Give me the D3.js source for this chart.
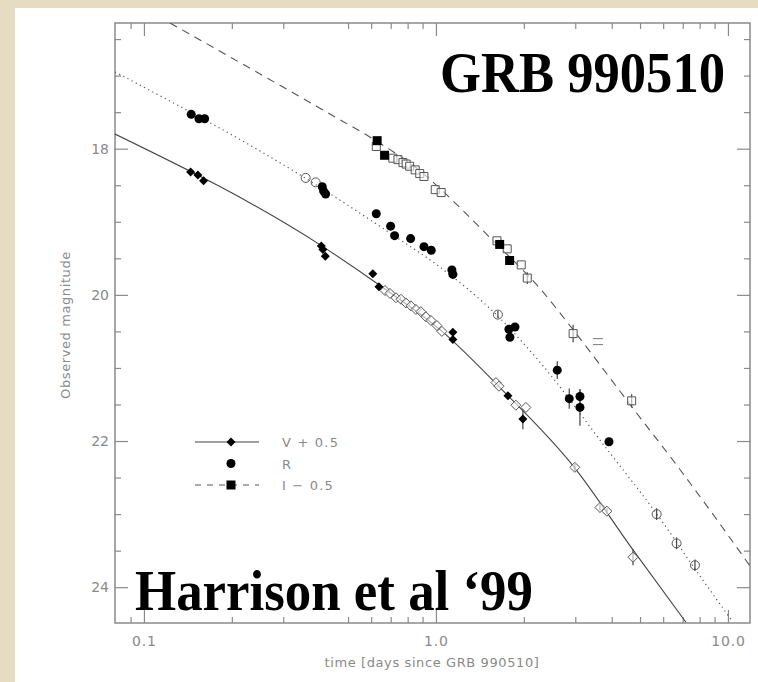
<!DOCTYPE html>
<html>
<head>
<meta charset="utf-8">
<script src="https://cdn.jsdelivr.net/npm/d3@7"></script>
<style>
  html, body { margin: 0; padding: 0; background: #e6dcc2; }
  svg { display: block; }
  .ax text { font-family: "DejaVu Sans", sans-serif; fill: #8a8a8a; }
</style>
</head>
<body>
<div id="chart"></div>
<script>
// GRB 990510 optical light curve (Harrison et al '99)
// values: [time in days, magnitude, error]

// V + 0.5 (filled diamonds)
const vFilled = [
  [0.1445, 18.32, 0], [0.153, 18.36, 0], [0.160, 18.44, 0],
  [0.405, 19.33, 0], [0.410, 19.38, 0], [0.418, 19.47, 0],
  [0.608, 19.71, 0], [0.638, 19.89, 0],
  [1.143, 20.51, 0], [1.143, 20.61, 0],
  [1.764, 21.38, 0.05], [1.985, 21.70, 0.14]
];
// V + 0.5 (open diamonds)
const vOpen = [
  [0.669, 19.94, 0], [0.696, 19.98, 0], [0.730, 20.04, 0], [0.759, 20.06, 0],
  [0.789, 20.11, 0], [0.821, 20.15, 0], [0.854, 20.20, 0], [0.888, 20.23, 0],
  [0.924, 20.30, 0], [0.961, 20.35, 0], [1.008, 20.42, 0], [1.048, 20.50, 0],
  [1.605, 21.20, 0], [1.644, 21.25, 0], [1.878, 21.51, 0], [2.033, 21.54, 0],
  [2.99, 22.36, 0.05], [3.645, 22.91, 0.04], [3.85, 22.96, 0.04], [4.73, 23.59, 0.11]
];
// R (filled circles)
const rFilled = [
  [0.1452, 17.53, 0], [0.1543, 17.59, 0], [0.1614, 17.59, 0],
  [0.408, 18.52, 0], [0.4124, 18.58, 0], [0.419, 18.62, 0],
  [0.6247, 18.89, 0], [0.6995, 19.06, 0], [0.722, 19.19, 0], [0.819, 19.23, 0],
  [0.910, 19.34, 0], [0.9636, 19.39, 0], [1.134, 19.66, 0], [1.143, 19.72, 0],
  [1.778, 20.47, 0.06], [1.865, 20.44, 0], [1.792, 20.58, 0.05],
  [2.603, 21.03, 0.12], [2.861, 21.42, 0.14], [3.113, 21.39, 0.1], [3.113, 21.54, 0.25],
  [3.914, 22.01, 0]
];
// R (open circles)
const rOpen = [
  [0.358, 18.40, 0], [0.3873, 18.46, 0], [1.63, 20.27, 0.05],
  [5.70, 23.00, 0.08], [6.67, 23.40, 0.08], [7.71, 23.70, 0.08]
];
// I - 0.5 (filled squares)
const iFilled = [
  [0.629, 17.89, 0], [0.667, 18.09, 0], [1.653, 19.31, 0], [1.788, 19.53, 0]
];
// I - 0.5 (open squares)
const iOpen = [
  [0.6247, 17.97, 0], [0.712, 18.13, 0], [0.741, 18.15, 0], [0.771, 18.19, 0],
  [0.791, 18.21, 0], [0.8128, 18.24, 0], [0.849, 18.29, 0], [0.880, 18.34, 0],
  [0.9098, 18.38, 0], [0.9945, 18.56, 0], [1.042, 18.60, 0],
  [1.618, 19.26, 0], [1.754, 19.37, 0], [1.959, 19.59, 0], [2.055, 19.77, 0.08],
  [2.95, 20.53, 0.12], [4.68, 21.45, 0.09]
];
// I - 0.5 odd symbol drawn as "="
const iBar = [[3.59, 20.64]];

// model curves
const vModel = [[0.0796, 17.80], [0.410, 19.34], [0.658, 19.90], [1.057, 20.51], [1.657, 21.27],
  [2.99, 22.37], [4.73, 23.49], [7.18, 24.48]];
const rModel = [[0.0796, 16.95], [0.356, 18.40], [0.724, 19.20], [1.016, 19.60], [1.618, 20.28],
  [2.27, 20.92], [3.85, 22.11], [5.71, 23.00], [7.71, 23.75], [10.32, 24.46]];
const iModel = [[0.1228, 16.28], [0.4267, 17.51], [0.628, 17.90], [0.88, 18.30], [1.162, 18.74],
  [1.507, 19.19], [2.29, 19.93], [2.94, 20.47], [4.62, 21.50], [6.85, 22.39], [9.53, 23.17], [11.9, 23.71]];

// axes ticks
const xMajor = [0.1, 1, 10];
const xMajorLabels = ["0.1", "1.0", "10.0"];
const xMinor = [0.09, 0.2, 0.3, 0.5, 0.6, 0.7, 0.8, 0.9, 2, 3, 4, 5, 6, 7, 8, 9];
const yMajor = [18, 20, 22, 24];
const yMinor = [16.5, 17, 17.5, 18.5, 19, 19.5, 20.5, 21, 21.5, 22.5, 23, 23.5];

// layout
const W = 758, H = 682;
const frame = { left: 115, top: 23, right: 750, bottom: 623 };

const svg = d3.select("#chart").append("svg").attr("width", W).attr("height", H);
svg.append("rect").attr("width", W).attr("height", H).attr("fill", "#e6dcc2");
svg.append("rect").attr("x", 15).attr("y", 8).attr("width", W - 15).attr("height", H - 8).attr("fill", "#fff");

const x = d3.scaleLog().domain([0.0796, 11.9]).range([frame.left, frame.right]);
const y = d3.scaleLinear().domain([16.28, 24.49]).range([frame.top, frame.bottom]);

svg.append("clipPath").attr("id", "clip").append("rect")
  .attr("x", frame.left).attr("y", frame.top)
  .attr("width", frame.right - frame.left).attr("height", frame.bottom - frame.top);

// axes (ticks point inward)
const axColor = "#8a8a8a";
function styleAxis(sel) {
  sel.select(".domain").remove();
  sel.selectAll("line").attr("stroke", axColor).attr("stroke-width", 1.2);
  sel.selectAll("text").attr("font-size", 14).attr("fill", axColor);
}
const bx = svg.append("g").attr("class", "ax").attr("transform", `translate(0,${frame.bottom})`);
bx.append("g").call(d3.axisBottom(x).tickValues(xMajor).tickSize(-13).tickPadding(13)
  .tickFormat((d, i) => xMajorLabels[i])).call(styleAxis);
bx.append("g").call(d3.axisBottom(x).tickValues(xMinor).tickSize(-6).tickFormat("")).call(styleAxis);
bx.selectAll("text").attr("letter-spacing", 0.8);
const tx = svg.append("g").attr("class", "ax").attr("transform", `translate(0,${frame.top})`);
tx.append("g").call(d3.axisTop(x).tickValues(xMajor).tickSize(-13).tickFormat("")).call(styleAxis);
tx.append("g").call(d3.axisTop(x).tickValues(xMinor).tickSize(-6).tickFormat("")).call(styleAxis);

const ly = svg.append("g").attr("class", "ax").attr("transform", `translate(${frame.left},0)`);
ly.append("g").call(d3.axisLeft(y).tickValues(yMajor).tickSize(-13).tickPadding(6)
  .tickFormat(d3.format("d"))).call(styleAxis);
ly.append("g").call(d3.axisLeft(y).tickValues(yMinor).tickSize(-6).tickFormat("")).call(styleAxis);
const ry = svg.append("g").attr("class", "ax").attr("transform", `translate(${frame.right},0)`);
ry.append("g").call(d3.axisRight(y).tickValues(yMajor).tickSize(-13).tickFormat("")).call(styleAxis);
ry.append("g").call(d3.axisRight(y).tickValues(yMinor).tickSize(-6).tickFormat("")).call(styleAxis);
ly.selectAll("text").attr("x", -6);

svg.append("rect")
  .attr("x", frame.left).attr("y", frame.top)
  .attr("width", frame.right - frame.left).attr("height", frame.bottom - frame.top)
  .attr("fill", "none").attr("stroke", axColor).attr("stroke-width", 1.5);

// axis titles
svg.append("text").attr("class", "ax")
  .attr("x", 432).attr("y", 667).attr("text-anchor", "middle")
  .attr("font-family", "DejaVu Sans").attr("font-size", 13).attr("fill", axColor)
  .attr("letter-spacing", 0.6)
  .text("time [days since GRB 990510]");
svg.append("text")
  .attr("transform", "translate(70,325) rotate(-90)").attr("text-anchor", "middle")
  .attr("font-family", "DejaVu Sans").attr("font-size", 13).attr("fill", axColor)
  .attr("letter-spacing", 0.6)
  .text("Observed magnitude");

// model curves
const plot = svg.append("g").attr("clip-path", "url(#clip)");
const line = d3.line().x(d => x(d[0])).y(d => y(d[1])).curve(d3.curveMonotoneX);
plot.append("path").datum(vModel).attr("d", line)
  .attr("fill", "none").attr("stroke", "#444").attr("stroke-width", 1.1);
plot.append("path").datum(rModel).attr("d", line)
  .attr("fill", "none").attr("stroke", "#555").attr("stroke-width", 1.2)
  .attr("stroke-dasharray", "1.2 3.5");
plot.append("path").datum(iModel).attr("d", line)
  .attr("fill", "none").attr("stroke", "#555").attr("stroke-width", 1.1)
  .attr("stroke-dasharray", "8 6");

// symbols
function diamondPath(cx, cy, r) {
  return `M${cx},${cy - r}L${cx + r},${cy}L${cx},${cy + r}L${cx - r},${cy}Z`;
}
function squarePath(cx, cy, r) {
  return `M${cx - r},${cy - r}h${2 * r}v${2 * r}h${-2 * r}Z`;
}
function errBars(data, color) {
  plot.selectAll(null).data(data.filter(d => d[2] > 0)).enter().append("line")
    .attr("x1", d => x(d[0])).attr("x2", d => x(d[0]))
    .attr("y1", d => y(d[1] - d[2])).attr("y2", d => y(d[1] + d[2]))
    .attr("stroke", color).attr("stroke-width", 1.2);
}

[vFilled, vOpen, rFilled, rOpen, iFilled, iOpen].forEach(s => errBars(s, "#444"));

plot.selectAll(null).data(vOpen).enter().append("path")
  .attr("d", d => diamondPath(x(d[0]), y(d[1]), 5))
  .attr("fill", "#fff").attr("fill-opacity", 0.6).attr("stroke", "#555").attr("stroke-width", 1);
plot.selectAll(null).data(iOpen).enter().append("path")
  .attr("d", d => squarePath(x(d[0]), y(d[1]), 4))
  .attr("fill", "#fff").attr("fill-opacity", 0.6).attr("stroke", "#555").attr("stroke-width", 1);
plot.selectAll(null).data(rOpen).enter().append("circle")
  .attr("cx", d => x(d[0])).attr("cy", d => y(d[1])).attr("r", 4.5)
  .attr("fill", "none").attr("stroke", "#555").attr("stroke-width", 1);
plot.selectAll(null).data(iBar).enter().append("path")
  .attr("d", d => `M${x(d[0]) - 5},${y(d[1]) - 3}h10M${x(d[0]) - 5},${y(d[1]) + 3}h10`)
  .attr("stroke", "#777").attr("stroke-width", 1);

plot.selectAll(null).data(vFilled).enter().append("path")
  .attr("d", d => diamondPath(x(d[0]), y(d[1]), 4.5)).attr("fill", "#000");
plot.selectAll(null).data(rFilled).enter().append("circle")
  .attr("cx", d => x(d[0])).attr("cy", d => y(d[1])).attr("r", 4.5).attr("fill", "#000");
plot.selectAll(null).data(iFilled).enter().append("path")
  .attr("d", d => squarePath(x(d[0]), y(d[1]), 4.5)).attr("fill", "#000");

// legend
const leg = svg.append("g").attr("transform", "translate(195,442)");
const legRows = ["V + 0.5", "R", "I \u2212 0.5"];
leg.append("line").attr("x1", 0).attr("x2", 64).attr("y1", 0).attr("y2", 0)
  .attr("stroke", "#444").attr("stroke-width", 1.2);
leg.append("path").attr("d", diamondPath(36, 0, 4.5)).attr("fill", "#000");
leg.append("circle").attr("cx", 36).attr("cy", 21.5).attr("r", 4.5).attr("fill", "#000");
leg.append("line").attr("x1", 0).attr("x2", 64).attr("y1", 43).attr("y2", 43)
  .attr("stroke", "#555").attr("stroke-width", 1.2).attr("stroke-dasharray", "6 6");
leg.append("path").attr("d", squarePath(36, 43, 4.5)).attr("fill", "#000");
leg.selectAll(null).data(legRows).enter().append("text")
  .attr("x", 87).attr("y", (d, i) => i * 21.5 + 5)
  .attr("font-family", "DejaVu Sans").attr("font-size", 13).attr("fill", axColor)
  .attr("letter-spacing", 1.2)
  .text(d => d);

// big annotations
svg.append("text").attr("x", 440).attr("y", 92)
  .attr("font-family", "Liberation Serif").attr("font-weight", "bold").attr("font-size", 57)
  .attr("textLength", 285).attr("lengthAdjust", "spacingAndGlyphs")
  .text("GRB 990510");
svg.append("text").attr("x", 135).attr("y", 610)
  .attr("font-family", "Liberation Serif").attr("font-weight", "bold").attr("font-size", 56)
  .attr("textLength", 398).attr("lengthAdjust", "spacingAndGlyphs")
  .text("Harrison et al \u201899");
</script>
</body>
</html>
